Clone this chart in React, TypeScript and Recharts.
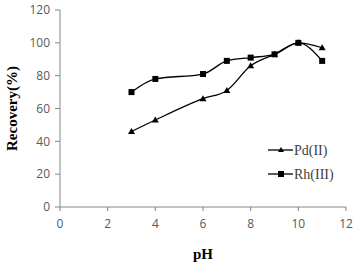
import { CartesianGrid, Label, Line, LineChart, XAxis, YAxis } from "recharts";

const phValues = [3, 4, 6, 7, 8, 9, 10, 11];
const pdRecovery = [46, 53, 66, 71, 86, 93, 100, 97];
const rhRecovery = [70, 78, 81, 89, 91, 93, 100, 89];
const xTicks = [0, 2, 4, 6, 8, 10, 12];
const yTicks = [0, 20, 40, 60, 80, 100, 120];

const rows = phValues.map((ph, i) => ({ ph, pd: pdRecovery[i], rh: rhRecovery[i] }));

const axisGray = "#868686";
const tickStyle = { fill: "#595959", fontSize: 12, fontFamily: "'Open Sans', 'Liberation Sans', sans-serif" };
const serif = "'Liberation Serif', 'DejaVu Serif', serif";

// Excel-style markers
const Triangle = ({ cx, cy }: any) =>
  cx == null ? null : <polygon points={`${cx},${cy - 3.5} ${cx + 3.5},${cy + 2.5} ${cx - 3.5},${cy + 2.5}`} fill="#000" />;
const Square = ({ cx, cy }: any) =>
  cx == null ? null : <rect x={cx - 3} y={cy - 3} width={6} height={6} fill="#000" />;

function LegendBox() {
  const items = [
    { name: "Pd(II)", mark: (x: number, y: number) => <polygon points={`${x},${y - 3} ${x + 3},${y + 2} ${x - 3},${y + 2}`} fill="#000" /> },
    { name: "Rh(III)", mark: (x: number, y: number) => <rect x={x - 3} y={y - 3} width={6} height={6} fill="#000" /> },
  ];
  return (
    <svg width={90} height={50} style={{ position: "absolute", left: 266, top: 137 }}>
      {items.map((it, i) => {
        const y = 13 + i * 24;
        return (
          <g key={it.name}>
            <line x1={2} x2={27} y1={y} y2={y} stroke="#000" strokeWidth={1.3} />
            {it.mark(15, y)}
            <text x={28} y={y + 5} fontFamily={serif} fontSize={14} fill="#404040">{it.name}</text>
          </g>
        );
      })}
    </svg>
  );
}

export default function App() {
  return (
    <div style={{ position: "absolute", left: 0, top: 0, width: 358, height: 262, background: "#fff" }}>
      <LineChart width={358} height={262} data={rows} margin={{ top: 10, right: 12, bottom: 10, left: 0 }}>
        <CartesianGrid stroke="none" />
        <XAxis
          dataKey="ph"
          type="number"
          domain={[0, 12]}
          ticks={xTicks}
          height={45}
          tick={tickStyle}
          tickSize={4}
          tickMargin={8}
          stroke={axisGray}
        >
          <Label value="pH" position="insideBottom" offset={0} dy={7} fontFamily={serif} fontSize={15} fontWeight="bold" fill="#000" />
        </XAxis>
        <YAxis
          type="number"
          domain={[0, 120]}
          ticks={yTicks}
          width={60}
          tick={tickStyle}
          tickSize={5}
          tickMargin={5}
          stroke={axisGray}
        >
          <Label
            value="Recovery(%)"
            angle={-90}
            position="insideLeft"
            offset={0}
            dx={12}
            textAnchor="middle"
            fontFamily={serif}
            fontSize={15}
            fontWeight="bold"
            fill="#000"
          />
        </YAxis>
        <Line dataKey="pd" type="monotone" stroke="#000" strokeWidth={1.3} dot={<Triangle />} activeDot={false} isAnimationActive={false} />
        <Line dataKey="rh" type="monotone" stroke="#000" strokeWidth={1.3} dot={<Square />} activeDot={false} isAnimationActive={false} />
      </LineChart>
      <LegendBox />
    </div>
  );
}
